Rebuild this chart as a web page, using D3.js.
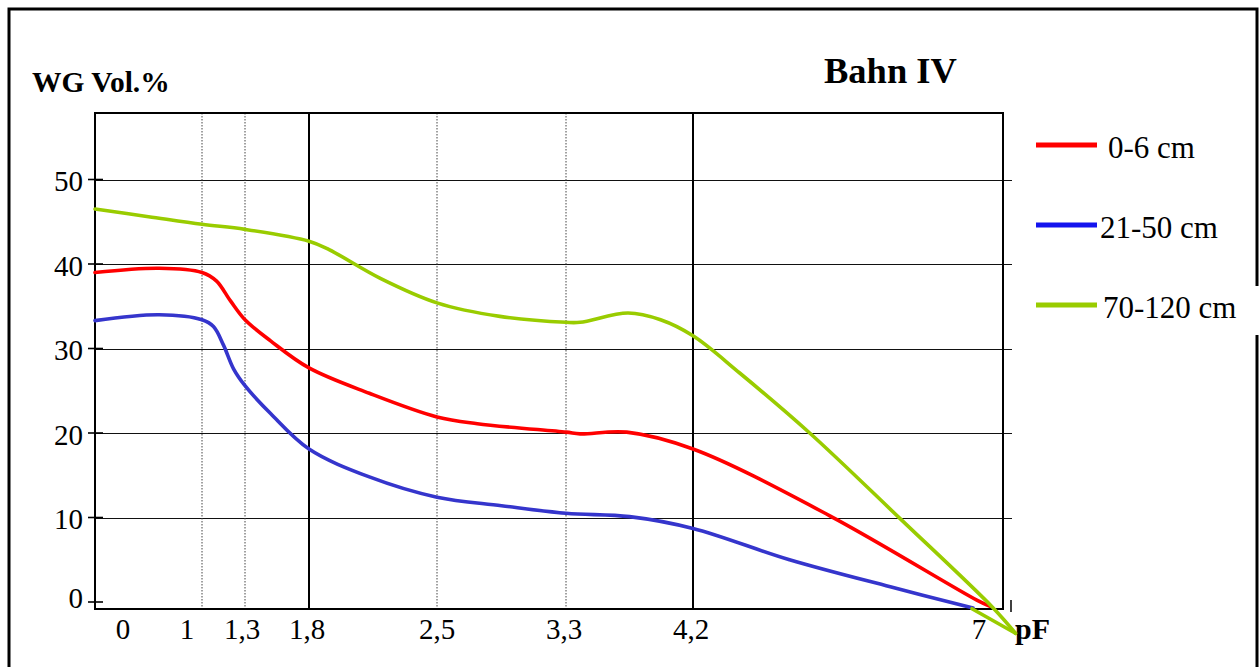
<!DOCTYPE html>
<html>
<head>
<meta charset="utf-8">
<script src="https://cdn.jsdelivr.net/npm/d3@7"></script>
<style>
  html, body { margin: 0; padding: 0; background: #fff; }
  svg { display: block; font-family: "Liberation Serif", "Times New Roman", serif; }
</style>
</head>
<body>
<svg id="chart" width="1260" height="667"></svg>
<script>
// pF tick positions and their printed labels
const pfTicks = [0, 1, 1.3, 1.8, 2.5, 3.3, 4.2, 7];
const pfLabels = ["0", "1", "1,3", "1,8", "2,5", "3,3", "4,2", "7"];
const pfSolid = [1.8, 4.2];
const pfDotted = [1, 1.3, 2.5, 3.3];
const wgTicks = [0, 10, 20, 30, 40, 50];
const wgGrid = [10, 20, 30, 40, 50];

const seriesNames = ["0-6 cm", "21-50 cm", "70-120 cm"];

// 0-6 cm
const redPF = [0, 0.6, 1.0, 1.1, 1.2, 1.3, 1.5, 1.8, 2.13, 2.5, 2.75, 3.3, 3.4, 3.73, 4.2, 5.49, 6.88, 7.0];
const redWG = [39.0, 39.5, 39.0, 38.0, 35.6, 33.4, 30.9, 27.7, 24.7, 21.9, 21.1, 20.1, 19.9, 20.1, 18.1, 10.2, 0.2, -0.5];

// 21-50 cm
const bluePF = [0, 0.6, 1.0, 1.08, 1.15, 1.22, 1.3, 1.5, 1.8, 2.13, 2.5, 2.9, 3.3, 3.75, 4.2, 5.11, 6.06, 6.84];
const blueWG = [33.3, 34.0, 33.4, 32.6, 30.4, 27.6, 25.6, 22.3, 18.1, 14.8, 12.4, 11.4, 10.5, 10.1, 8.7, 5.0, 1.8, -0.7];

// 70-120 cm
const greenPF = [0, 0.5, 1.0, 1.3, 1.8, 1.91, 2.19, 2.5, 2.89, 3.3, 3.4, 3.74, 3.97, 4.2, 4.64, 5.30, 6.15, 7.03, 7.24, 6.83];
const greenWG = [46.5, 45.6, 44.7, 44.1, 42.7, 41.7, 38.3, 35.4, 33.8, 33.1, 33.1, 34.2, 33.4, 31.5, 27.1, 20.0, 9.9, -0.7, -3.7, -0.8];

const lineColors = ["#ff0000", "#3535cc", "#99cc00"];
const legendColors = ["#ff0000", "#1414ee", "#99cc00"];

const svg = d3.select("#chart");

// plot box
const boxL = 95, boxT = 113, boxR = 1003, boxB = 609;

// pF axis is drawn piecewise (non-uniform spacing between the marked pF values)
const x = d3.scaleLinear()
  .domain(pfTicks)
  .range([95, 202, 245, 309, 437, 566, 693, 990]);
const xLabel = d3.scaleLinear()
  .domain(pfTicks)
  .range([123, 187, 242, 307, 437, 564, 691, 979]);
const y = d3.scaleLinear().domain([0, 50]).range([602, 179.5]);

// outer frame
svg.append("rect")
  .attr("x", 9).attr("y", 9)
  .attr("width", 1248).attr("height", 700)
  .attr("fill", "none").attr("stroke", "#000").attr("stroke-width", 3);

// horizontal grid lines
svg.append("g").selectAll("line").data(wgGrid).join("line")
  .attr("x1", boxL).attr("x2", 1012)
  .attr("y1", d => Math.round(y(d)) + 0.5).attr("y2", d => Math.round(y(d)) + 0.5)
  .attr("stroke", "#111").attr("stroke-width", 1.2);

// dotted verticals
svg.append("g").selectAll("line").data(pfDotted).join("line")
  .attr("x1", d => x(d)).attr("x2", d => x(d))
  .attr("y1", boxT).attr("y2", boxB)
  .attr("stroke", "#444").attr("stroke-width", 1)
  .attr("stroke-dasharray", "1.5,1.5");

// solid verticals
svg.append("g").selectAll("line").data(pfSolid).join("line")
  .attr("x1", d => x(d)).attr("x2", d => x(d))
  .attr("y1", boxT).attr("y2", boxB)
  .attr("stroke", "#000").attr("stroke-width", 2);

// plot box
svg.append("rect")
  .attr("x", boxL).attr("y", boxT)
  .attr("width", boxR - boxL).attr("height", boxB - boxT)
  .attr("fill", "none").attr("stroke", "#000").attr("stroke-width", 2);

// y ticks and labels
const yt = svg.append("g");
yt.selectAll("line").data(wgTicks).join("line")
  .attr("x1", 88).attr("x2", 103)
  .attr("y1", d => y(d)).attr("y2", d => y(d))
  .attr("stroke", "#000").attr("stroke-width", 1.6);
yt.selectAll("text").data(wgTicks).join("text")
  .attr("x", 83).attr("y", d => y(d))
  .attr("dy", d => d === 0 ? "0.2em" : "0.4em")
  .attr("text-anchor", "end")
  .attr("font-size", 29)
  .text(d => d);

// small tick at the right end of the pF axis
svg.append("line")
  .attr("x1", 1011).attr("x2", 1011).attr("y1", 600).attr("y2", 612)
  .attr("stroke", "#000").attr("stroke-width", 1.5);

// x labels
svg.append("g").selectAll("text").data(pfTicks).join("text")
  .attr("x", d => xLabel(d)).attr("y", 639)
  .attr("text-anchor", "middle")
  .attr("font-size", 29)
  .text((d, i) => pfLabels[i]);

// axis titles
svg.append("text").attr("x", 32).attr("y", 92)
  .attr("font-size", 29.5).attr("font-weight", "bold").text("WG Vol.%");
svg.append("text").attr("x", 1015).attr("y", 639)
  .attr("font-size", 30).attr("font-weight", "bold").text("pF");
svg.append("text").attr("x", 824).attr("y", 83)
  .attr("font-size", 36.5).attr("font-weight", "bold").text("Bahn IV");

// curves: smooth run up to the furthest pF point, straight back from there
const series = [
  { pf: redPF, wg: redWG },
  { pf: bluePF, wg: blueWG },
  { pf: greenPF, wg: greenWG }
];
const smooth = d3.line().x(d => x(d[0])).y(d => y(d[1])).curve(d3.curveCatmullRom.alpha(0.5));
const straight = d3.line().x(d => x(d[0])).y(d => y(d[1]));
series.forEach((s, i) => {
  const pts = s.pf.map((p, k) => [p, s.wg[k]]);
  const tip = d3.maxIndex(pts, d => d[0]);
  const g = svg.append("g")
    .attr("fill", "none").attr("stroke", lineColors[i])
    .attr("stroke-width", 3.6).attr("stroke-linejoin", "round").attr("stroke-linecap", "round");
  g.append("path").attr("d", smooth(pts.slice(0, tip + 1)));
  if (tip < pts.length - 1) g.append("path").attr("d", straight(pts.slice(tip)));
});

// legend (its last label sits over the frame edge)
svg.append("rect").attr("x", 1243).attr("y", 286).attr("width", 17).attr("height", 49).attr("fill", "#fff");
const legendY = [145, 225, 305];
const legendTextX = [1108, 1100, 1103];
const lg = svg.append("g");
seriesNames.forEach((name, i) => {
  lg.append("line")
    .attr("x1", 1036).attr("x2", 1097)
    .attr("y1", legendY[i]).attr("y2", legendY[i])
    .attr("stroke", legendColors[i]).attr("stroke-width", 5);
  lg.append("text")
    .attr("x", legendTextX[i]).attr("y", legendY[i] + 13)
    .attr("font-size", 31)
    .text(name);
});
</script>
</body>
</html>
